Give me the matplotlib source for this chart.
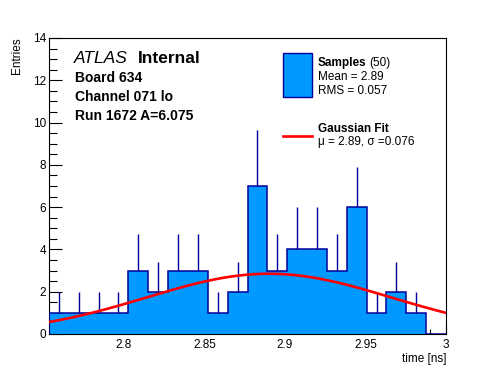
import numpy as np
import matplotlib.pyplot as plt
from matplotlib.ticker import MultipleLocator

plt.rcParams['font.family'] = ['Liberation Sans', 'DejaVu Sans']

# histogram data (20 bins over the axis range)
X_MIN = 2.7534
X_MAX = 3.0
counts = [1, 1, 1, 1, 3, 2, 3, 3, 1, 2, 7, 3, 4, 4, 3, 6, 1, 2, 1, 0]
err_up = [1, 1, 1, 1, 1.73, 1.41, 1.73, 1.73, 1, 1.41, 2.65, 1.73, 2, 2, 1.73, 1.9, 1, 1.41, 1, 0]

# gaussian fit parameters
fit_amp = 2.85
fit_mu = 2.89
fit_sigma = 0.076

FILL = "#0099ff"
EDGE = "#000099"
W, H = 496, 372

fig = plt.figure(figsize=(W / 100, H / 100), dpi=100)
ax = fig.add_axes([49 / W, 1 - 334 / H, (446 - 49) / W, (334 - 38) / H])

edges = np.linspace(X_MIN, X_MAX, len(counts) + 1)
centers = 0.5 * (edges[:-1] + edges[1:])
counts = np.array(counts, dtype=float)
err_up = np.array(err_up)

ax.stairs(counts, edges, fill=True, color=FILL, zorder=2)
ax.stairs(counts, edges, baseline=0, color=EDGE, linewidth=1.1, zorder=3)
mask = counts > 0
ax.vlines(centers[mask], counts[mask], counts[mask] + err_up[mask], color=EDGE, linewidth=1.0, zorder=3)

xf = np.linspace(X_MIN, X_MAX, 300)
ax.plot(xf, fit_amp * np.exp(-0.5 * ((xf - fit_mu) / fit_sigma) ** 2), color="red", linewidth=1.9, zorder=4)

ax.set_xlim(X_MIN, X_MAX)
ax.set_ylim(0, 14)
ax.xaxis.set_major_locator(MultipleLocator(0.05))
ax.xaxis.set_minor_locator(MultipleLocator(0.01))
ax.yaxis.set_major_locator(MultipleLocator(2))
ax.yaxis.set_minor_locator(MultipleLocator(0.5))
ax.set_xticks([2.8, 2.85, 2.9, 2.95, 3.0], ["2.8", "2.85", "2.9", "2.95", "3"])
ax.tick_params(axis="x", which="major", direction="in", length=6.5, width=0.8, pad=3.5, labelsize=8.5)
ax.tick_params(axis="x", which="minor", direction="in", length=3.3, width=0.8)
ax.tick_params(axis="y", which="major", direction="in", length=9, width=0.8, pad=2, labelsize=8.5)
ax.tick_params(axis="y", which="minor", direction="in", length=5.5, width=0.8)
for s in ax.spines.values():
    s.set_linewidth(0.8)

def ftext(x, y, s, **kw):
    fig.text(x / W, 1 - y / H, s, va="baseline", **kw)

fig.text(17 / W, 1 - 37 / H, "Entries", rotation=90, ha="center", va="top", fontsize=8.5)
ftext(446, 362, "time [ns]", ha="right", fontsize=8.5)

ftext(74, 63, "ATLAS", fontsize=12.5, style="italic")
ftext(138, 63, "Internal", fontsize=12.5, fontweight="bold")
ftext(75, 82, "Board 634", fontsize=10, fontweight="bold")
ftext(75, 101, "Channel 071 lo", fontsize=10, fontweight="bold")
ftext(75, 120, "Run 1672 A=6.075", fontsize=10, fontweight="bold")

# legend
fig.patches.append(plt.Rectangle((283.3 / W, 1 - 96.7 / H), 28.4 / W, 43.4 / H,
                                 transform=fig.transFigure, facecolor=FILL, edgecolor=EDGE, linewidth=1.0))
ftext(317.5, 66, "Samples", fontsize=8.5, fontweight="bold")
ftext(369, 66, "(50)", fontsize=8.5)
ftext(317.5, 80, "Mean = 2.89", fontsize=8.5)
ftext(317.5, 93.5, "RMS = 0.057", fontsize=8.5)
fig.add_artist(plt.Line2D([283.3 / W, 311.7 / W], [1 - 136 / H, 1 - 136 / H], color="red", linewidth=1.9))
ftext(317.5, 132.5, "Gaussian Fit", fontsize=8.5, fontweight="bold")
ftext(317.5, 145.5, "\u03bc = 2.89, \u03c3 =0.076", fontsize=8.5)

plt.savefig("out.png", dpi=100)
plt.close()
